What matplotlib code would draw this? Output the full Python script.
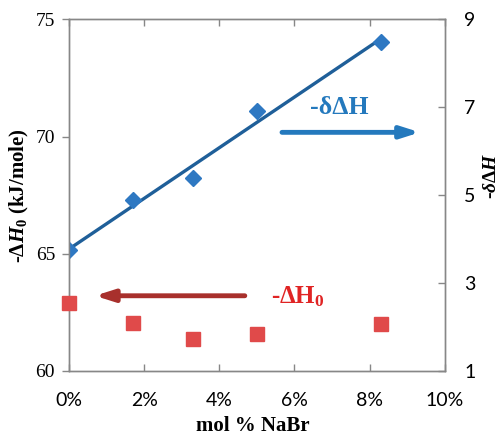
import matplotlib
matplotlib.use("Agg")
import matplotlib.pyplot as plt
import numpy as np
from matplotlib.ticker import PercentFormatter

plt.rcParams['mathtext.fontset'] = 'custom'
plt.rcParams['mathtext.rm'] = 'Liberation Serif:bold'
plt.rcParams['mathtext.it'] = 'Liberation Serif:italic:bold'
plt.rcParams['mathtext.bf'] = 'Liberation Serif:bold'

# Data
mol_frac = [0.0, 0.017, 0.033, 0.05, 0.083]
delta_dH = [3.74, 4.88, 5.38, 6.92, 8.49]      # -δΔH, right axis
dH0 = [62.89, 62.05, 61.37, 61.58, 61.99]       # -ΔH0 (kJ/mole), left axis

left_ticks = [60, 65, 70, 75]
right_ticks = [1, 3, 5, 7, 9]
x_ticks = [0.0, 0.02, 0.04, 0.06, 0.08, 0.10]

blue_m = '#2e78c2'
blue_l = '#1f5f99'
red_m = '#e04a4a'
red_a = '#a8302c'
spine_c = '#878787'

fig = plt.figure(figsize=(5.04, 4.36), dpi=100)
ax = fig.add_axes([0.1369, 0.1498, 0.7454, 0.8055])
ax2 = ax.twinx()

# Right axis: diamonds + linear fit
ax2.plot(mol_frac, delta_dH, linestyle='none', marker='D', ms=8.6,
         color=blue_m, zorder=3)
coef = np.polyfit(mol_frac, delta_dH, 1)
xf = np.array([mol_frac[0], mol_frac[-1]])
ax2.plot(xf, np.polyval(coef, xf), color=blue_l, lw=2.4, zorder=2)

# Left axis: squares
ax.plot(mol_frac, dH0, linestyle='none', marker='s', ms=10, color=red_m,
        zorder=3, clip_on=False)

ax.set_xlim(0, 0.10)
ax.set_ylim(60, 75)
ax2.set_ylim(1, 9)
ax.set_xticks(x_ticks)
ax.xaxis.set_major_formatter(PercentFormatter(xmax=1, decimals=0))
ax.set_yticks(left_ticks)
ax2.set_yticks(right_ticks)

for a in (ax, ax2):
    for s in a.spines.values():
        s.set_color(spine_c)
        s.set_linewidth(1.0)

ax.tick_params(axis='x', direction='in', top=True, length=5, width=1,
               color=spine_c, pad=15, labelsize=14)
ax.tick_params(axis='y', direction='out', length=5, width=1, color=spine_c,
               pad=5, labelsize=14)
ax2.tick_params(axis='y', direction='in', length=5, width=1, color=spine_c,
                pad=14, labelsize=14)
for lab in ax.get_xticklabels() + ax2.get_yticklabels():
    lab.set_fontfamily('Lato')
for lab in ax.get_yticklabels():
    lab.set_fontfamily('Liberation Serif')

ax.set_xlabel('mol % NaBr', fontfamily='Liberation Serif', fontweight='bold',
              fontsize=15)
ax.xaxis.set_label_coords(0.49, -0.13)
ax.set_ylabel(r'-$\mathit{\Delta H_0}$ (kJ/mole)', fontfamily='Liberation Serif',
              fontweight='bold', fontsize=15)
ax.yaxis.set_label_coords(-0.1, 0.5)
ax2.set_ylabel(r'-$\mathit{\delta\Delta H}$', fontfamily='Liberation Serif',
               fontweight='bold', fontsize=14, rotation=90)
ax2.yaxis.set_label_coords(1.103, 0.555)

# Arrows and annotations
ax.annotate('', xy=(0.0934, 70.18), xytext=(0.0567, 70.18),
            arrowprops=dict(arrowstyle='-|>,head_length=1.1,head_width=0.35',
                            lw=3.5, color='#2479bd', shrinkA=0, shrinkB=0))
ax.text(0.0719, 70.95, '-δΔH', color='#2479bd', fontfamily='Liberation Serif',
        fontweight='bold', fontsize=18.5, ha='center', va='baseline')

ax.annotate('', xy=(0.0069, 63.2), xytext=(0.0468, 63.2),
            arrowprops=dict(arrowstyle='-|>,head_length=1.1,head_width=0.35',
                            lw=3.5, color=red_a, shrinkA=0, shrinkB=0))
ax.text(0.0609, 62.89, r'-ΔH$_0$', color='#e02424', fontfamily='Liberation Serif',
        fontweight='bold', fontsize=18, ha='center', va='baseline')

ax.set_zorder(ax2.get_zorder() + 1)
ax.patch.set_visible(False)

fig.savefig('out.png', dpi=100)
